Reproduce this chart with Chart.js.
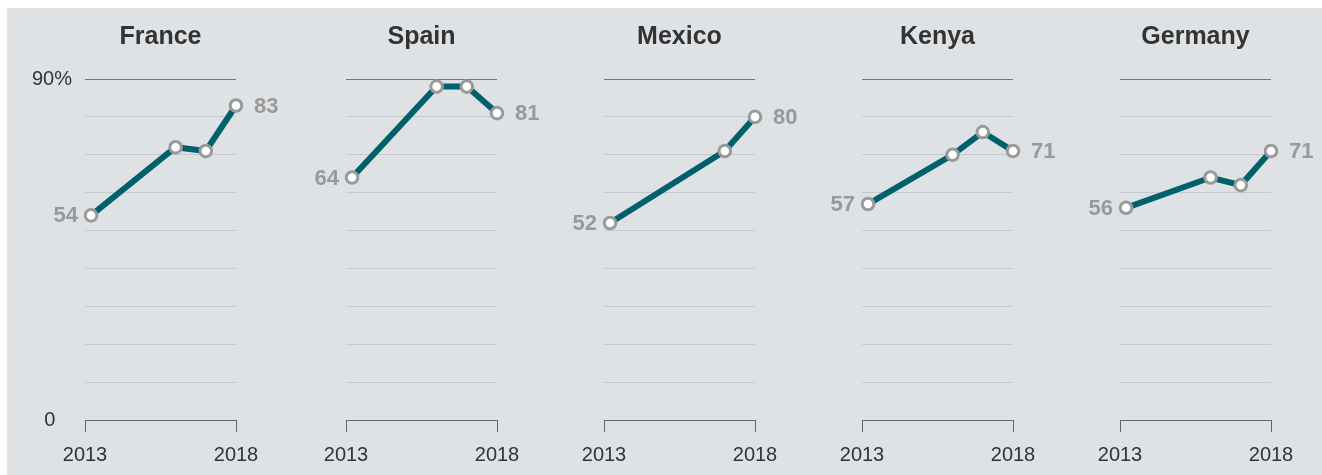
<!DOCTYPE html>
<html>
<head>
<meta charset="utf-8">
<script src="https://cdn.jsdelivr.net/npm/chart.js@4.4.1/dist/chart.umd.min.js"></script>
<style>
    body { margin: 0; background: #fff; width: 1322px; height: 475px; overflow: hidden; position: relative; }
    #panel { position: absolute; left: 7px; top: 8px; right: 0; bottom: 0; background: #dfe2e5; }
    canvas { position: absolute; top: 0; }
</style>
</head>
<body>
<div id="panel"></div>

<script>
// survey years (first survey sits a little after the 2013 tick)
const countries = ['France', 'Spain', 'Mexico', 'Kenya', 'Germany'];
const surveyYears = [2013.2, 2016, 2017, 2018];
const mexicoYears = [2013.2, 2017, 2018];

const franceValues = [54, 72, 71, 83];
const spainValues = [64, 88, 88, 81];
const mexicoValues = [52, 71, 80];
const kenyaValues = [57, 70, 76, 71];
const germanyValues = [56, 64, 62, 71];

const xTickYears = [2013, 2018];
const yGridValues = [0, 10, 20, 30, 40, 50, 60, 70, 80, 90];

const seriesYears = [surveyYears, surveyYears, mexicoYears, surveyYears, surveyYears];
const seriesValues = [franceValues, spainValues, mexicoValues, kenyaValues, germanyValues];

// where each panel's plot starts on the page
const axisLefts = [85, 346, 604, 862, 1120];
const plotWidth = 151;
const canvasWidth = 300;
const leftRoom = 70;

const FONT = '"Liberation Sans", Arial, Helvetica, sans-serif';
Chart.defaults.font.family = FONT;

const endLabels = {
    id: 'endLabels',
    afterDatasetsDraw(chart) {
        const ctx = chart.ctx;
        const pts = chart.getDatasetMeta(0).data;
        const vals = chart.data.datasets[0].data;
        const first = pts[0];
        const last = pts[pts.length - 1];
        ctx.save();
        ctx.font = 'bold 22px ' + FONT;
        ctx.fillStyle = '#999';
        ctx.textBaseline = 'middle';
        ctx.textAlign = 'right';
        ctx.fillText(vals[0].y, first.x - 13, first.y + 1);
        ctx.textAlign = 'left';
        ctx.fillText(vals[vals.length - 1].y, last.x + 18, last.y + 1);
        ctx.restore();
    }
};

countries.forEach((name, i) => {
    const canvas = document.createElement('canvas');
    canvas.width = canvasWidth;
    canvas.height = 475;
    canvas.style.left = (axisLefts[i] - leftRoom) + 'px';
    document.body.appendChild(canvas);

    const points = seriesYears[i].map((yr, k) => ({ x: yr, y: seriesValues[i][k] }));

    new Chart(canvas.getContext('2d'), {
        type: 'line',
        data: {
            datasets: [{
                data: points,
                borderColor: '#00606c',
                borderWidth: 6,
                pointRadius: 5.8,
                pointBorderWidth: 3,
                pointBorderColor: '#9a9a9a',
                pointBackgroundColor: '#fff',
                tension: 0,
                clip: false
            }]
        },
        options: {
            responsive: false,
            animation: false,
            devicePixelRatio: 1,
            events: [],
            layout: {
                padding: { left: 0, right: canvasWidth - leftRoom - plotWidth, top: 0, bottom: 0 }
            },
            plugins: {
                legend: { display: false },
                tooltip: { enabled: false },
                title: {
                    display: true,
                    fullSize: false,
                    text: name,
                    color: '#333',
                    font: { size: 25, weight: 'bold' },
                    padding: { top: 22, bottom: 27 }
                }
            },
            scales: {
                x: {
                    type: 'linear',
                    min: 2013,
                    max: 2018,
                    afterBuildTicks: s => { s.ticks = xTickYears.map(v => ({ value: v })); },
                    afterFit: s => { s.height = 55; },
                    grid: { drawOnChartArea: false, drawTicks: true, tickLength: 12, color: '#666' },
                    border: { color: '#666', width: 1 },
                    ticks: {
                        color: '#333',
                        font: { size: 20 },
                        padding: 11,
                        maxRotation: 0,
                        autoSkip: false,
                        callback: v => v.toString()
                    }
                },
                y: {
                    min: 0,
                    max: 90,
                    afterBuildTicks: s => { s.ticks = yGridValues.map(v => ({ value: v })); },
                    afterFit: s => { s.width = leftRoom; },
                    grid: {
                        drawTicks: false,
                        color: c => c.tick.value === 90 ? '#767676' : (c.tick.value === 0 ? '#666' : '#c7cacd')
                    },
                    border: { display: false },
                    ticks: {
                        display: i === 0,
                        autoSkip: false,
                        color: '#333',
                        font: { size: 20 },
                        padding: 13,
                        callback: v => v === 90 ? '90%' : (v === 0 ? '0   ' : '')
                    }
                }
            }
        },
        plugins: [endLabels]
    });
});
</script>
</body>
</html>
